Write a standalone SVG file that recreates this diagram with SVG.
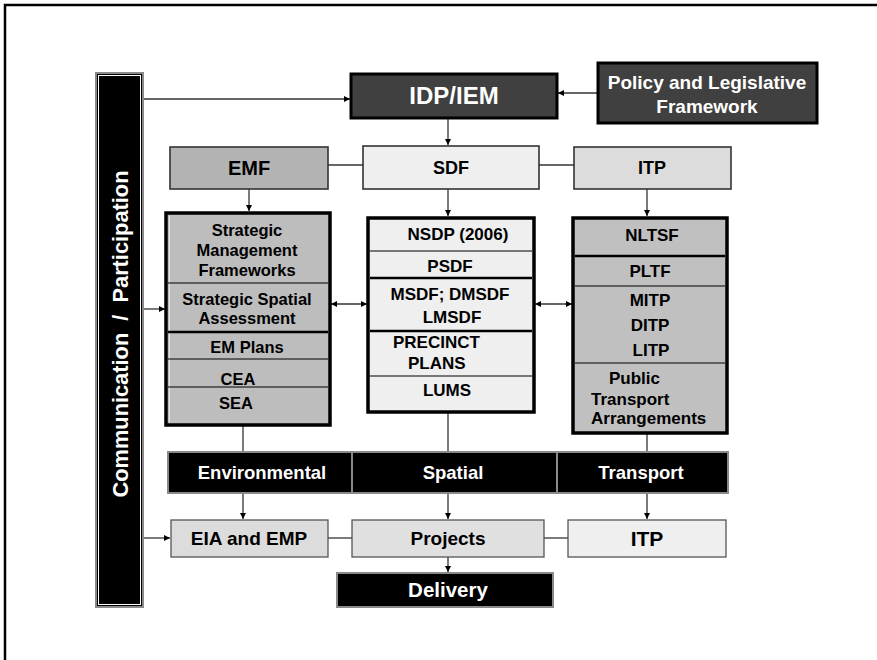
<svg xmlns="http://www.w3.org/2000/svg" width="877" height="660" viewBox="0 0 877 660">
  <defs>
    <marker id="arr" viewBox="0 0 10 10" refX="10" refY="5" markerWidth="6" markerHeight="6" markerUnits="userSpaceOnUse" orient="auto-start-reverse">
      <path d="M0,0 L10,5 L0,10 z" fill="#000"/>
    </marker>
    <style>
      text { font-family: "Liberation Sans", Arial, sans-serif; font-weight: bold; text-anchor: middle; }
      .dark { fill: #404040; stroke: #000; stroke-width: 3; }
      .band { fill: #000; stroke: #8a8a8a; stroke-width: 2; }
      .hdr { stroke: #333; stroke-width: 1.6; }
      .stack { stroke: #000; stroke-width: 3.5; }
      .thick { stroke: #000; stroke-width: 2.5; }
      .thin { stroke: #000; stroke-width: 1.2; }
      .wt { fill: #fff; }
      .bk { fill: #000; }
      .conn { stroke: #333; stroke-width: 1.3; fill: none; }
      .cf { stroke: #333; stroke-width: 1.3; fill: none; marker-end: url(#arr); }
      .cb { stroke: #333; stroke-width: 1.3; fill: none; marker-start: url(#arr); marker-end: url(#arr); }
    </style>
  </defs>

  <!-- page frame -->
  <rect x="5" y="5" width="900" height="700" fill="#fff" stroke="#000" stroke-width="2.5"/>

  <!-- connectors -->
  <g id="connectors">
    <line class="cf" x1="144" y1="99" x2="350" y2="99"/>
    <line class="cf" x1="597" y1="93" x2="558" y2="93"/>
    <line class="cf" x1="448" y1="118" x2="448" y2="145"/>
    <line class="conn" x1="328" y1="165" x2="363" y2="165"/>
    <line class="conn" x1="539" y1="165" x2="574" y2="165"/>
    <line class="cf" x1="249" y1="189" x2="249" y2="211"/>
    <line class="cf" x1="448" y1="189" x2="448" y2="216"/>
    <line class="cf" x1="647" y1="189" x2="647" y2="216"/>
    <line class="cf" x1="144" y1="309" x2="165" y2="309"/>
    <line class="cb" x1="331" y1="304" x2="367" y2="304"/>
    <line class="cb" x1="535" y1="304" x2="572" y2="304"/>
    <line class="conn" x1="243" y1="425" x2="243" y2="452"/>
    <line class="conn" x1="448" y1="412" x2="448" y2="452"/>
    <line class="conn" x1="647" y1="418" x2="647" y2="452"/>
    <line class="cf" x1="243" y1="493" x2="243" y2="519"/>
    <line class="cf" x1="448" y1="493" x2="448" y2="519"/>
    <line class="cf" x1="647" y1="493" x2="647" y2="519"/>
    <line class="cf" x1="144" y1="538" x2="170" y2="538"/>
    <line class="conn" x1="328" y1="538" x2="352" y2="538"/>
    <line class="conn" x1="544" y1="538" x2="568" y2="538"/>
    <line class="cf" x1="448" y1="557" x2="448" y2="572"/>
  </g>

  <!-- side bar -->
  <g id="participation">
    <rect x="96" y="73" width="47" height="534" fill="#000" stroke="#8a8a8a" stroke-width="2"/>
    <rect x="98.5" y="75.5" width="42" height="529" fill="none" stroke="#fff" stroke-width="1"/>
    <text class="wt" font-size="21.8" style="white-space:pre" transform="translate(128,334) rotate(-90)">Communication  /  Participation</text>
  </g>

  <g id="idp">
    <rect class="dark" x="351" y="74" width="206" height="44"/>
    <text class="wt" x="454" y="104" font-size="24">IDP/IEM</text>
  </g>

  <g id="policy">
    <rect class="dark" x="598" y="63" width="219" height="60" stroke-width="2.5"/>
    <text class="wt" x="707" y="89" font-size="19">Policy and Legislative</text>
    <text class="wt" x="707" y="113" font-size="19">Framework</text>
  </g>

  <g id="emf">
    <rect class="hdr" x="170" y="147" width="158" height="42" fill="#b3b3b3"/>
    <text class="bk" x="249" y="175" font-size="20">EMF</text>
  </g>

  <g id="sdf">
    <rect class="hdr" x="363" y="146" width="176" height="43" fill="#efefef"/>
    <text class="bk" x="451" y="174" font-size="18">SDF</text>
  </g>

  <g id="itp-top">
    <rect class="hdr" x="574" y="147" width="157" height="42" fill="#dcdcdc"/>
    <text class="bk" x="652" y="174" font-size="18">ITP</text>
  </g>

  <!-- environmental stack -->
  <g id="env-stack">
    <rect class="stack" x="166" y="213" width="164" height="212" fill="#bdbdbd"/>
    <line x1="169.5" y1="216" x2="169.5" y2="422" stroke="#e6e6e6" stroke-width="1"/>
    <line class="thin" x1="168" y1="283" x2="328" y2="283"/>
    <line class="thick" x1="168" y1="332" x2="328" y2="332"/>
    <line class="thin" x1="168" y1="359" x2="328" y2="359"/>
    <line class="thin" x1="168" y1="387" x2="328" y2="387"/>
    <text class="bk" x="247" y="236" font-size="16.5">Strategic</text>
    <text class="bk" x="247" y="256" font-size="16.5">Management</text>
    <text class="bk" x="247" y="276" font-size="16.5">Frameworks</text>
    <text class="bk" x="247" y="305" font-size="16.5">Strategic Spatial</text>
    <text class="bk" x="247" y="324" font-size="16.5">Assessment</text>
    <text class="bk" x="247" y="353" font-size="16.5">EM Plans</text>
    <text class="bk" x="238" y="385" font-size="16.5">CEA</text>
    <text class="bk" x="236" y="409" font-size="16.5">SEA</text>
  </g>

  <!-- spatial stack -->
  <g id="spatial-stack">
    <rect class="stack" x="368" y="218" width="166" height="194" fill="#efefef"/>
    <line class="thin" x1="370" y1="251" x2="532" y2="251"/>
    <line class="thick" x1="370" y1="278" x2="532" y2="278"/>
    <line class="thick" x1="370" y1="331" x2="532" y2="331"/>
    <line class="thin" x1="370" y1="376" x2="532" y2="376"/>
    <text class="bk" x="458" y="240" font-size="17">NSDP (2006)</text>
    <text class="bk" x="450" y="272" font-size="17">PSDF</text>
    <text class="bk" x="450" y="300" font-size="17">MSDF; DMSDF</text>
    <text class="bk" x="452" y="323" font-size="17">LMSDF</text>
    <text class="bk" x="393" y="348" font-size="17" style="text-anchor:start">PRECINCT</text>
    <text class="bk" x="408" y="369" font-size="17" style="text-anchor:start">PLANS</text>
    <text class="bk" x="447" y="396" font-size="17">LUMS</text>
  </g>

  <!-- transport stack -->
  <g id="transport-stack">
    <rect class="stack" x="573" y="218" width="154" height="215" fill="#c0c0c0"/>
    <line class="thick" x1="575" y1="256" x2="725" y2="256"/>
    <line class="thin" x1="575" y1="286" x2="725" y2="286"/>
    <line class="thin" x1="575" y1="363" x2="725" y2="363"/>
    <text class="bk" x="652" y="241" font-size="17">NLTSF</text>
    <text class="bk" x="650" y="277" font-size="17">PLTF</text>
    <text class="bk" x="650" y="306" font-size="17">MITP</text>
    <text class="bk" x="650" y="331" font-size="17">DITP</text>
    <text class="bk" x="651" y="356" font-size="17">LITP</text>
    <text class="bk" x="609" y="384" font-size="17" style="text-anchor:start">Public</text>
    <text class="bk" x="591" y="405" font-size="17" style="text-anchor:start">Transport</text>
    <text class="bk" x="591" y="424" font-size="17" style="text-anchor:start">Arrangements</text>
  </g>

  <!-- outcome band -->
  <g id="band-environmental">
    <rect class="band" x="168" y="452" width="184" height="41"/>
    <text class="wt" x="262" y="479" font-size="18.5">Environmental</text>
  </g>
  <g id="band-spatial">
    <rect class="band" x="352" y="452" width="205" height="41"/>
    <text class="wt" x="453" y="479" font-size="18.5">Spatial</text>
  </g>
  <g id="band-transport">
    <rect class="band" x="557" y="452" width="171" height="41"/>
    <text class="wt" x="641" y="479" font-size="18.5">Transport</text>
  </g>

  <g id="eia">
    <rect x="171" y="520" width="157" height="37" fill="#dcdcdc" stroke="#555" stroke-width="1.3"/>
    <text class="bk" x="249" y="545" font-size="19">EIA and EMP</text>
  </g>

  <g id="projects">
    <rect x="352" y="520" width="192" height="37" fill="#e0e0e0" stroke="#555" stroke-width="1.3"/>
    <text class="bk" x="448" y="545" font-size="19">Projects</text>
  </g>

  <g id="itp-bottom">
    <rect x="568" y="520" width="158" height="37" fill="#efefef" stroke="#555" stroke-width="1.3"/>
    <text class="bk" x="647" y="546" font-size="21">ITP</text>
  </g>

  <g id="delivery">
    <rect class="band" x="337" y="573" width="216" height="34"/>
    <text class="wt" x="448" y="597" font-size="20.5">Delivery</text>
  </g>
</svg>
